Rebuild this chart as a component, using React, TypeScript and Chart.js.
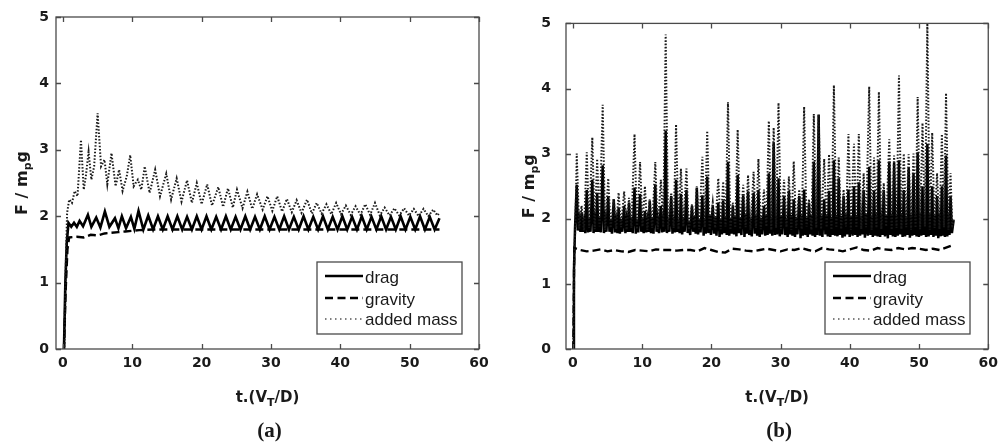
import { useEffect, useRef } from 'react';
import { Chart, registerables } from 'chart.js';
Chart.register(...registerables);

type Pt = [number, number];

const xTicks = [0, 10, 20, 30, 40, 50, 60];
const yTicks = [0, 1, 2, 3, 4, 5];
const xMin = -1;
const xMax = 60;
const yMin = 0;
const yMax = 5;
const legendLabels = ['drag', 'gravity', 'added mass'];
const panelLabels = ['(a)', '(b)'];

// ---------- panel (a) ----------
const dragA: Pt[] = [
  [0, 0], [0.15, 0], [0.35, 1.0], [0.55, 1.6], [0.8, 1.9], [1.2, 1.84], [1.6, 1.9], [2.0, 1.84],
  [2.4, 1.93], [2.9, 1.85], [3.6, 2.02], [4.1, 1.84], [4.8, 1.98], [5.4, 1.83], [6.05, 2.07],
  [6.7, 1.84], [7.5, 1.97], [8.0, 1.82], [8.5, 2.0], [9.1, 1.82], [9.8, 1.99], [10.3, 1.81],
  [10.9, 2.08], [11.6, 1.8], [12.3, 2.01], [13.0, 1.8], [13.7, 2.0], [14.4, 1.8], [15.1, 2.0],
  [15.8, 1.8], [16.5, 2.0], [17.2, 1.8], [17.9, 1.99], [18.6, 1.8], [19.3, 2.0], [20.0, 1.8],
  [20.7, 2.0], [21.4, 1.8], [22.1, 1.99], [22.8, 1.8], [23.5, 2.0], [24.2, 1.8], [24.9, 1.99],
  [25.6, 1.8], [26.3, 2.0], [27.0, 1.8], [27.7, 1.99], [28.4, 1.8], [29.1, 2.0], [29.8, 1.8],
  [30.5, 1.99], [31.2, 1.8], [31.9, 2.0], [32.6, 1.8], [33.3, 1.99], [34.0, 1.8], [34.7, 2.0],
  [35.4, 1.8], [36.1, 1.99], [36.8, 1.8], [37.5, 2.0], [38.2, 1.8], [38.9, 1.99], [39.6, 1.8],
  [40.3, 2.0], [41.0, 1.8], [41.7, 1.99], [42.4, 1.8], [43.1, 2.0], [43.8, 1.8], [44.5, 1.99],
  [45.2, 1.8], [45.9, 2.0], [46.6, 1.8], [47.3, 1.99], [48.0, 1.8], [48.7, 2.0], [49.4, 1.8],
  [50.1, 1.99], [50.8, 1.8], [51.5, 2.0], [52.2, 1.8], [52.9, 1.99], [53.6, 1.8], [54.3, 1.97],
];

const gravityA: Pt[] = [
  [0, 0], [0.15, 0], [0.4, 0.9], [0.65, 1.5], [0.9, 1.68], [2, 1.69], [3, 1.68], [4, 1.72],
  [5, 1.71], [6, 1.74], [7, 1.75], [8, 1.76], [9, 1.77], [10, 1.78], [11, 1.79], [13, 1.8],
  [54.3, 1.8],
];

const addedMassA: Pt[] = [
  [0, 0], [0.2, 0], [0.4, 1.2], [0.6, 2.05], [0.9, 2.25], [1.3, 2.2], [1.7, 2.38], [2.1, 2.3],
  [2.6, 3.15], [3.0, 2.4], [3.3, 2.6], [3.7, 2.97], [4.1, 2.55], [4.5, 2.75], [5.0, 3.55],
  [5.5, 2.75], [6.0, 2.85], [6.4, 2.48], [7.0, 2.95], [7.6, 2.45], [8.1, 2.7], [8.6, 2.38],
  [9.2, 2.6], [9.7, 2.92], [10.2, 2.45], [10.8, 2.55], [11.3, 2.4], [11.8, 2.75], [12.5, 2.35],
  [13.3, 2.7], [14.0, 2.3], [14.9, 2.64], [15.6, 2.25], [16.4, 2.57], [17.1, 2.22], [17.9, 2.54],
  [18.6, 2.2], [19.3, 2.5], [20.0, 2.18], [20.8, 2.48], [21.5, 2.16], [22.4, 2.44], [23.1, 2.14],
  [23.8, 2.42], [24.5, 2.13], [25.1, 2.4], [25.9, 2.12], [26.6, 2.37], [27.3, 2.11], [28.0, 2.33],
  [28.8, 2.1], [29.5, 2.3], [30.2, 2.08], [30.9, 2.3], [31.6, 2.07], [32.3, 2.26], [33.0, 2.06],
  [33.7, 2.24], [34.4, 2.05], [35.2, 2.25], [35.9, 2.04], [36.6, 2.2], [37.3, 2.04], [38.0, 2.18],
  [38.7, 2.03], [39.4, 2.2], [40.1, 2.03], [40.8, 2.16], [41.5, 2.02], [42.2, 2.15], [42.9, 2.02],
  [43.6, 2.18], [44.3, 2.02], [45.0, 2.2], [45.7, 2.01], [46.4, 2.13], [47.1, 2.01], [47.8, 2.12],
  [48.5, 2.01], [49.2, 2.12], [49.9, 2.01], [50.6, 2.11], [51.3, 2.0], [52.0, 2.11], [52.7, 2.0],
  [53.4, 2.1], [54.0, 2.01], [54.3, 2.05],
];

// ---------- panel (b) ----------
const dragB: Pt[] = [
  [0, 0], [0.05, 0], [0.15, 1.2], [0.3, 1.85],
  [0.55, 2.52], [0.73, 1.82], [0.91, 1.98], [1.09, 1.8],
  [1.25, 2.1], [1.43, 1.8], [1.61, 1.95], [1.79, 1.78],
  [2.0, 2.44], [2.18, 1.79], [2.36, 2.0], [2.54, 1.8],
  [2.8, 2.6], [2.98, 1.78], [3.16, 1.97], [3.34, 1.8],
  [3.5, 2.4], [3.68, 1.8], [3.86, 2.02], [4.04, 1.79],
  [4.3, 2.82], [4.48, 1.78], [4.66, 1.98], [4.84, 1.8],
  [5.1, 2.35], [5.28, 1.8], [5.46, 2.0], [5.64, 1.77],
  [5.9, 2.3], [6.08, 1.79], [6.26, 1.96], [6.44, 1.78],
  [6.6, 2.17], [6.78, 1.77], [6.96, 2.0], [7.14, 1.8],
  [7.4, 2.2], [7.58, 1.78], [7.76, 1.98], [7.94, 1.8],
  [8.1, 2.25], [8.28, 1.8], [8.46, 2.02], [8.64, 1.78],
  [8.9, 2.48], [9.08, 1.77], [9.26, 1.99], [9.44, 1.79],
  [9.7, 2.38], [9.88, 1.8], [10.06, 2.0], [10.22, 1.78],
  [10.4, 2.12], [10.58, 1.79], [10.76, 1.97], [10.94, 1.8],
  [11.1, 2.28], [11.28, 1.78], [11.46, 2.02], [11.64, 1.77],
  [11.9, 2.53], [12.08, 1.8], [12.26, 1.98], [12.44, 1.78],
  [12.7, 2.2], [12.88, 1.79], [13.04, 1.96], [13.2, 1.8],
  [13.4, 3.35], [13.58, 1.78], [13.76, 2.0], [13.94, 1.8],
  [14.2, 2.35], [14.38, 1.77], [14.56, 2.03], [14.74, 1.79],
  [14.9, 2.6], [15.08, 1.8], [15.26, 1.99], [15.42, 1.78],
  [15.6, 2.38], [15.78, 1.76], [15.96, 2.02], [16.14, 1.8],
  [16.4, 2.44], [16.58, 1.78], [16.76, 1.97], [16.94, 1.75],
  [17.2, 2.2], [17.38, 1.8], [17.56, 2.04], [17.74, 1.77],
  [17.9, 2.48], [18.08, 1.76], [18.26, 2.0], [18.44, 1.79],
  [18.7, 2.36], [18.88, 1.74], [19.04, 1.98], [19.2, 1.77],
  [19.4, 2.65], [19.58, 1.78], [19.76, 2.05], [19.94, 1.75],
  [20.2, 2.2], [20.38, 1.77], [20.56, 2.02], [20.74, 1.74],
  [21.0, 2.25], [21.18, 1.72], [21.36, 2.0], [21.52, 1.76],
  [21.7, 2.28], [21.88, 1.78], [22.06, 2.04], [22.22, 1.75],
  [22.4, 2.87], [22.58, 1.74], [22.76, 2.0], [22.94, 1.77],
  [23.1, 2.2], [23.28, 1.76], [23.46, 2.05], [23.62, 1.73],
  [23.8, 2.67], [23.98, 1.78], [24.16, 2.02], [24.34, 1.75],
  [24.6, 2.36], [24.78, 1.72], [24.96, 2.06], [25.12, 1.77],
  [25.3, 2.42], [25.48, 1.75], [25.66, 2.0], [25.84, 1.73],
  [26.1, 2.4], [26.28, 1.77], [26.46, 2.05], [26.62, 1.74],
  [26.8, 2.44], [26.98, 1.72], [27.16, 2.02], [27.34, 1.76],
  [27.6, 2.2], [27.78, 1.74], [27.96, 2.06], [28.12, 1.75],
  [28.3, 2.7], [28.48, 1.77], [28.64, 2.0], [28.8, 1.74],
  [29.0, 3.17], [29.18, 1.75], [29.34, 2.04], [29.5, 1.76],
  [29.7, 2.62], [29.88, 1.73], [30.06, 2.05], [30.24, 1.76],
  [30.5, 2.35], [30.68, 1.75], [30.86, 2.02], [31.02, 1.72],
  [31.2, 2.43], [31.38, 1.76], [31.56, 2.06], [31.72, 1.74],
  [31.9, 2.3], [32.08, 1.72], [32.26, 2.03], [32.44, 1.76],
  [32.7, 2.35], [32.88, 1.7], [33.04, 2.05], [33.2, 1.74],
  [33.4, 2.45], [33.58, 1.75], [33.76, 2.02], [33.92, 1.72],
  [34.1, 2.25], [34.28, 1.76], [34.46, 2.06], [34.62, 1.74],
  [34.8, 2.88], [34.98, 1.72], [35.14, 2.04], [35.3, 1.75],
  [35.5, 3.6], [35.68, 1.74], [35.86, 2.05], [36.04, 1.72],
  [36.3, 2.3], [36.48, 1.76], [36.66, 2.07], [36.82, 1.73],
  [37.0, 2.43], [37.18, 1.72], [37.36, 2.03], [37.52, 1.75],
  [37.7, 2.9], [37.88, 1.74], [38.06, 2.06], [38.22, 1.73],
  [38.4, 2.62], [38.58, 1.75], [38.76, 2.04], [38.94, 1.71],
  [39.1, 2.35], [39.28, 1.73], [39.46, 2.07], [39.62, 1.76],
  [39.8, 2.45], [39.98, 1.72], [40.16, 2.05], [40.4, 1.74],
  [40.6, 2.5], [40.78, 1.75], [40.96, 2.06], [41.12, 1.72],
  [41.3, 2.56], [41.48, 1.74], [41.66, 2.04], [41.82, 1.76],
  [42.0, 2.44], [42.18, 1.71], [42.36, 2.08], [42.6, 1.74],
  [42.8, 2.8], [42.98, 1.75], [43.16, 2.05], [43.32, 1.72],
  [43.5, 2.43], [43.68, 1.74], [43.86, 2.07], [44.02, 1.73],
  [44.2, 2.9], [44.38, 1.72], [44.56, 2.06], [44.72, 1.75],
  [44.9, 2.44], [45.08, 1.73], [45.26, 2.04], [45.5, 1.7],
  [45.7, 2.88], [45.88, 1.75], [46.06, 2.08], [46.22, 1.73],
  [46.4, 2.86], [46.58, 1.72], [46.76, 2.05], [46.92, 1.74],
  [47.1, 2.9], [47.28, 1.76], [47.46, 2.07], [47.62, 1.72],
  [47.8, 2.44], [47.98, 1.73], [48.16, 2.04], [48.32, 1.75],
  [48.5, 2.78], [48.68, 1.71], [48.86, 2.06], [49.02, 1.74],
  [49.2, 2.7], [49.36, 1.75], [49.5, 2.05], [49.64, 1.73],
  [49.8, 3.02], [49.98, 1.72], [50.16, 2.08], [50.32, 1.74],
  [50.5, 2.5], [50.68, 1.75], [50.86, 2.06], [51.02, 1.72],
  [51.2, 3.15], [51.38, 1.73], [51.56, 2.07], [51.72, 1.75],
  [51.9, 2.5], [52.08, 1.72], [52.26, 2.05], [52.42, 1.74],
  [52.6, 2.35], [52.78, 1.7], [52.96, 2.08], [53.12, 1.73],
  [53.3, 2.5], [53.46, 1.74], [53.6, 2.06], [53.74, 1.72],
  [53.9, 2.97], [54.08, 1.73], [54.26, 2.07], [54.4, 1.75],
  [54.55, 2.35], [54.75, 1.78], [55.0, 1.98],
];

const gravityB: Pt[] = [
  [0, 0], [0.05, 0], [0.2, 1.55], [1, 1.52], [2, 1.5], [3, 1.51], [4, 1.53], [5, 1.5], [6, 1.52],
  [7, 1.5], [8, 1.49], [9, 1.52], [10, 1.51], [11, 1.5], [12, 1.53], [13, 1.52], [14, 1.52],
  [15, 1.51], [16, 1.52], [17, 1.52], [18, 1.5], [19, 1.55], [20, 1.52], [21, 1.49], [22, 1.48],
  [23, 1.54], [24, 1.53], [25, 1.51], [26, 1.5], [27, 1.52], [28, 1.54], [29, 1.52], [30, 1.5],
  [31, 1.53], [32, 1.52], [33, 1.55], [34, 1.52], [35, 1.5], [36, 1.55], [37, 1.53], [38, 1.52],
  [39, 1.5], [40, 1.53], [41, 1.56], [42, 1.52], [43, 1.51], [44, 1.55], [45, 1.53], [46, 1.52],
  [47, 1.55], [48, 1.53], [49, 1.55], [50, 1.54], [51, 1.52], [52, 1.54], [53, 1.52], [54, 1.56],
  [55, 1.6],
];

const addedMassB: Pt[] = [
  [0, 0], [0.05, 0], [0.2, 1.5], [0.35, 1.85],
  [0.55, 3.0], [0.9, 1.85], [1.25, 2.2], [1.6, 1.82], [2.0, 3.02], [2.35, 1.86], [2.8, 3.25],
  [3.15, 1.84], [3.5, 2.92], [3.85, 1.88], [4.3, 3.75], [4.65, 1.83], [5.1, 2.62], [5.45, 1.86],
  [5.9, 2.3], [6.25, 1.84], [6.6, 2.4], [6.95, 1.87], [7.4, 2.42], [7.75, 1.83], [8.1, 2.32],
  [8.45, 1.86], [8.9, 3.3], [9.25, 1.84], [9.7, 2.87], [10.05, 1.88], [10.4, 2.5], [10.75, 1.83],
  [11.1, 2.3], [11.45, 1.86], [11.9, 2.87], [12.25, 1.84], [12.7, 2.6], [13.05, 1.87], [13.4, 4.83],
  [13.75, 1.83], [14.2, 2.4], [14.55, 1.86], [14.9, 3.45], [15.25, 1.84], [15.6, 2.77], [15.95, 1.88],
  [16.4, 2.77], [16.75, 1.83], [17.2, 2.22], [17.55, 1.86], [17.9, 2.5], [18.25, 1.84], [18.7, 2.95],
  [19.05, 1.87], [19.4, 3.35], [19.75, 1.83], [20.2, 2.25], [20.55, 1.86], [21.0, 2.62], [21.35, 1.84],
  [21.7, 2.57], [22.05, 1.88], [22.4, 3.79], [22.75, 1.83], [23.1, 2.25], [23.45, 1.86], [23.8, 3.37],
  [24.15, 1.84], [24.6, 2.52], [24.95, 1.87], [25.3, 2.67], [25.65, 1.83], [26.1, 2.72], [26.45, 1.86],
  [26.8, 2.92], [27.15, 1.84], [27.6, 2.45], [27.95, 1.88], [28.3, 3.5], [28.65, 1.83], [29.0, 3.4],
  [29.35, 1.86], [29.7, 3.78], [30.05, 1.84], [30.5, 2.6], [30.85, 1.87], [31.2, 2.65], [31.55, 1.83],
  [31.9, 2.88], [32.25, 1.86], [32.7, 2.45], [33.05, 1.84], [33.4, 3.72], [33.75, 1.88], [34.1, 2.3],
  [34.45, 1.83], [34.8, 3.61], [35.15, 1.86], [35.5, 3.6], [35.85, 1.84], [36.3, 2.92], [36.65, 1.87],
  [37.0, 2.99], [37.35, 1.83], [37.7, 4.05], [38.05, 1.86], [38.4, 2.94], [38.75, 1.84], [39.1, 2.45],
  [39.45, 1.88], [39.8, 3.3], [40.15, 1.83], [40.6, 3.15], [40.95, 1.86], [41.3, 3.3], [41.65, 1.84],
  [42.0, 2.7], [42.35, 1.87], [42.8, 4.03], [43.15, 1.83], [43.5, 2.94], [43.85, 1.86], [44.2, 3.95],
  [44.55, 1.84], [44.9, 2.55], [45.25, 1.88], [45.7, 3.22], [46.05, 1.83], [46.4, 2.97], [46.75, 1.86],
  [47.1, 4.2], [47.45, 1.84], [47.8, 3.0], [48.15, 1.87], [48.5, 2.99], [48.85, 1.83], [49.2, 3.0],
  [49.5, 1.86], [49.8, 3.87], [50.15, 1.84], [50.5, 3.47], [50.85, 1.88], [51.2, 5.0], [51.55, 1.83],
  [51.9, 3.32], [52.25, 1.86], [52.6, 2.7], [52.95, 1.84], [53.3, 3.3], [53.6, 1.87], [53.9, 3.93],
  [54.25, 1.83], [54.55, 2.7], [54.8, 1.86], [55.0, 2.0],
];

// ---------- layout of each panel (pixels within its own canvas) ----------
interface Panel {
  drag: Pt[];
  gravity: Pt[];
  added: Pt[];
  label: string;
  axisLeft: number;
  padRight: number;
  yTickPad: number;
  yTitleX: number;
  legendX: number;
  dragWidth: number;
}

const PANEL_W = 502;
const PANEL_H = 445;
const PLOT_TOP = 17;
const PLOT_BOTTOM = 349;

const panels: Panel[] = [
  { drag: dragA, gravity: gravityA, added: addedMassA, label: panelLabels[0], axisLeft: 56, padRight: 23, yTickPad: 7, yTitleX: 27, legendX: 317, dragWidth: 2.6 },
  { drag: dragB, gravity: gravityB, added: addedMassB, label: panelLabels[1], axisLeft: 64, padRight: 15, yTickPad: 15, yTitleX: 32, legendX: 323, dragWidth: 2.5 },
];

const tickFont = { family: 'DejaVu Sans', weight: 'bold' as const, size: 14 };
const TITLE_FONT = 'bold 15px "DejaVu Sans"';
const YTITLE_FONT = 'bold 16px "DejaVu Sans"';
const SUB_FONT = 'bold 11px "DejaVu Sans"';
const INK = '#1a1a1a';

function drawSubText(ctx: CanvasRenderingContext2D, parts: [string, boolean][], x: number, y: number, mainFont: string) {
  let total = 0;
  const widths = parts.map(([t, sub]) => {
    ctx.font = sub ? SUB_FONT : mainFont;
    const w = ctx.measureText(t).width;
    total += w;
    return w;
  });
  let cx = x - total / 2;
  ctx.textAlign = 'left';
  ctx.textBaseline = 'alphabetic';
  parts.forEach(([t, sub], i) => {
    ctx.font = sub ? SUB_FONT : mainFont;
    ctx.fillText(t, cx, sub ? y + 4 : y);
    cx += widths[i];
  });
}

function makeDecor(p: Panel) {
  return {
    id: 'decor',
    afterDatasetsDraw(chart: any) {
      const { ctx, chartArea: a, scales } = chart;
      ctx.save();
      // axes box
      ctx.strokeStyle = '#4a4a4a';
      ctx.lineWidth = 1.3;
      ctx.setLineDash([]);
      ctx.strokeRect(a.left, a.top, a.right - a.left, a.bottom - a.top);
      // inward ticks
      ctx.beginPath();
      for (const v of xTicks) {
        const x = Math.round(scales.x.getPixelForValue(v)) + 0.5;
        ctx.moveTo(x, a.bottom); ctx.lineTo(x, a.bottom - 5);
        ctx.moveTo(x, a.top); ctx.lineTo(x, a.top + 5);
      }
      for (const v of yTicks) {
        const y = Math.round(scales.y.getPixelForValue(v)) + 0.5;
        ctx.moveTo(a.left, y); ctx.lineTo(a.left + 5, y);
        ctx.moveTo(a.right, y); ctx.lineTo(a.right - 5, y);
      }
      ctx.stroke();

      // legend
      const lx = p.legendX, ly = 262, lw = 145, lh = 72;
      ctx.fillStyle = '#ffffff';
      ctx.fillRect(lx, ly, lw, lh);
      ctx.strokeStyle = '#4a4a4a';
      ctx.lineWidth = 1.3;
      ctx.strokeRect(lx, ly, lw, lh);
      const rows = [276, 298, 319];
      const styles = [
        { dash: [] as number[], w: 2.5, c: '#000' },
        { dash: [8, 4.5], w: 2.5, c: '#000' },
        { dash: [1.5, 3.5], w: 1.6, c: '#555' },
      ];
      rows.forEach((ry, i) => {
        ctx.beginPath();
        ctx.setLineDash(styles[i].dash);
        ctx.lineWidth = styles[i].w;
        ctx.strokeStyle = styles[i].c;
        ctx.moveTo(lx + 8, ry);
        ctx.lineTo(lx + 46, ry);
        ctx.stroke();
      });
      ctx.setLineDash([]);
      ctx.fillStyle = INK;
      ctx.font = '17px "Liberation Sans"';
      ctx.textAlign = 'left';
      ctx.textBaseline = 'alphabetic';
      const baselines = [283, 305, 325];
      legendLabels.forEach((t, i) => ctx.fillText(t, lx + 48, baselines[i]));
      ctx.restore();
    },
    afterDraw(chart: any) {
      const { ctx, chartArea: a } = chart;
      ctx.save();
      ctx.fillStyle = INK;
      const cx = (a.left + a.right) / 2;
      // x title
      drawSubText(ctx, [['t.(V', false], ['T', true], ['/D)', false]], cx, 402, TITLE_FONT);
      // y title (rotated)
      ctx.save();
      ctx.translate(p.yTitleX, (a.top + a.bottom) / 2);
      ctx.rotate(-Math.PI / 2);
      drawSubText(ctx, [['F / m', false], ['p', true], ['g', false]], 0, 0, YTITLE_FONT);
      ctx.restore();
      // panel label
      ctx.font = 'bold 21px "Liberation Serif"';
      ctx.textAlign = 'center';
      ctx.textBaseline = 'alphabetic';
      ctx.fillText(p.label, cx + 2, 437);
      ctx.restore();
    },
  };
}

function xy(pts: Pt[]) {
  return pts.map(([x, y]) => ({ x, y }));
}

function buildChart(canvas: HTMLCanvasElement, p: Panel) {
  const common = { pointRadius: 0, pointHoverRadius: 0, tension: 0, fill: false };
  return new Chart(canvas, {
    type: 'line',
    data: {
      datasets: [
        { ...common, label: legendLabels[2], data: xy(p.added), borderColor: '#1a1a1a', borderWidth: 2, borderDash: [1.5, 1.8], order: 1 },
        { ...common, label: legendLabels[1], data: xy(p.gravity), borderColor: '#000', borderWidth: 2.4, borderDash: [8, 4], order: 2 },
        { ...common, label: legendLabels[0], data: xy(p.drag), borderColor: '#000', borderWidth: p.dragWidth, order: 3 },
      ] as any,
    },
    options: {
      responsive: false,
      animation: false,
      devicePixelRatio: 1,
      layout: { padding: { top: PLOT_TOP, right: p.padRight, left: 0, bottom: 0 } },
      plugins: { legend: { display: false }, tooltip: { enabled: false } },
      events: [],
      scales: {
        x: {
          type: 'linear',
          min: xMin,
          max: xMax,
          grid: { display: false, drawTicks: false },
          border: { display: false },
          ticks: { font: tickFont, color: INK, padding: 6, maxRotation: 0, autoSkip: false },
          afterBuildTicks: (s: any) => { s.ticks = xTicks.map((v) => ({ value: v })); },
          afterFit: (s: any) => { s.height = PANEL_H - PLOT_BOTTOM; },
        },
        y: {
          type: 'linear',
          min: yMin,
          max: yMax,
          grid: { display: false, drawTicks: false },
          border: { display: false },
          ticks: { font: tickFont, color: INK, padding: p.yTickPad, autoSkip: false },
          afterBuildTicks: (s: any) => { s.ticks = yTicks.map((v) => ({ value: v })); },
          afterFit: (s: any) => { s.width = p.axisLeft; },
        },
      },
    } as any,
    plugins: [makeDecor(p)],
  });
}

export default function App() {
  const refA = useRef<HTMLCanvasElement>(null);
  const refB = useRef<HTMLCanvasElement>(null);

  useEffect(() => {
    const charts: Chart[] = [];
    if (refA.current) charts.push(buildChart(refA.current, panels[0]));
    if (refB.current) charts.push(buildChart(refB.current, panels[1]));
    return () => charts.forEach((c) => c.destroy());
  }, []);

  return (
    <div style={{ position: 'fixed', left: 0, top: 0, width: 1004, height: 445, background: '#fff', overflow: 'hidden' }}>
      <canvas ref={refA} width={PANEL_W} height={PANEL_H} style={{ position: 'absolute', left: 0, top: 0, width: PANEL_W, height: PANEL_H }} />
      <canvas ref={refB} width={PANEL_W} height={PANEL_H} style={{ position: 'absolute', left: PANEL_W, top: 0, width: PANEL_W, height: PANEL_H }} />
    </div>
  );
}
